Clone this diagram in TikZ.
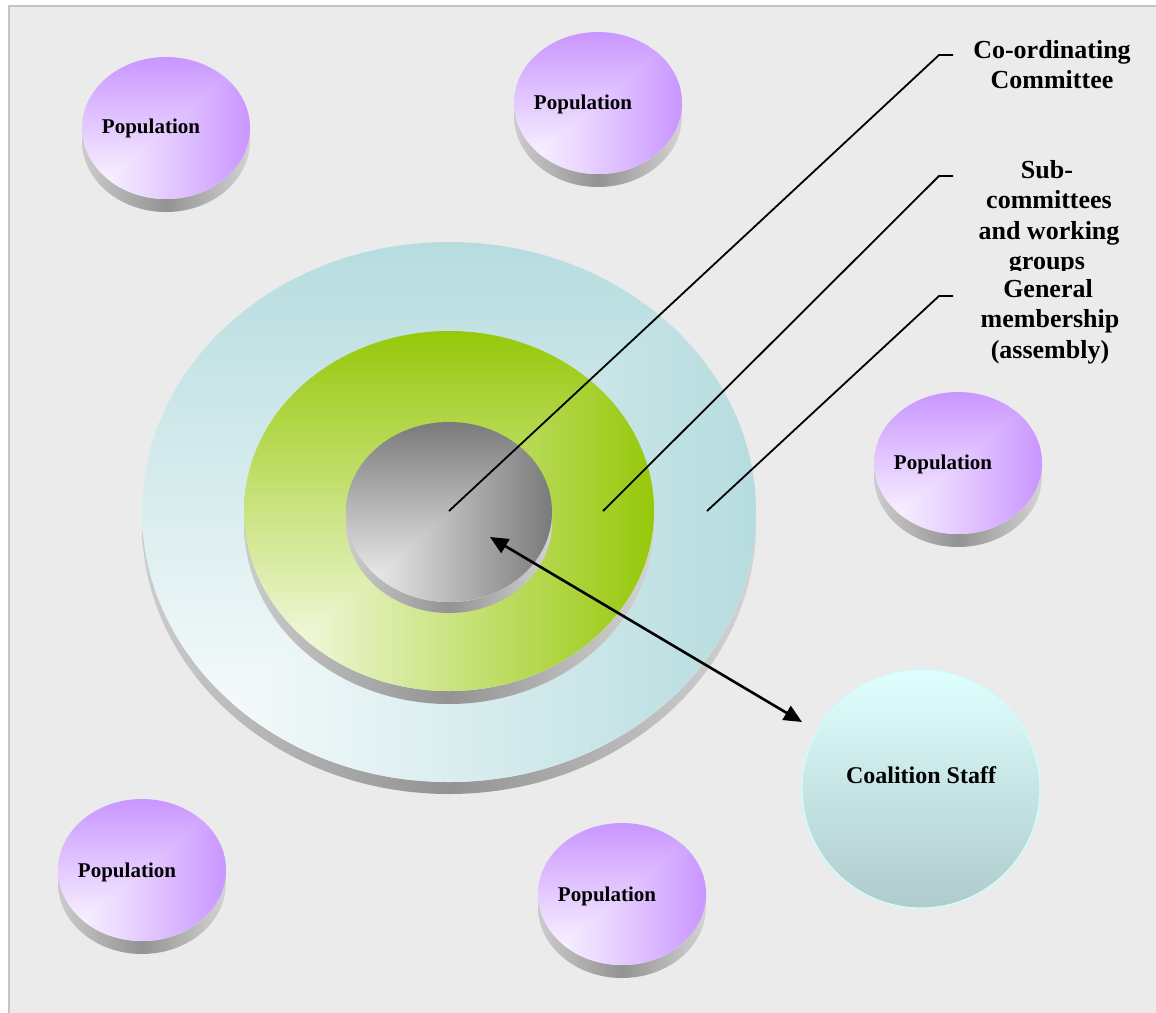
\documentclass[tikz,border=0pt]{standalone}
\usepackage{fontspec}
\setmainfont{Liberation Serif}
\usetikzlibrary{arrows.meta}

\definecolor{bgfill}{HTML}{EBEBEB}
\definecolor{bgedge}{HTML}{C3C3C3}
\definecolor{popdark}{HTML}{C996FF}
\definecolor{poplight}{HTML}{FFFFFF}
\definecolor{greydark}{HTML}{7A7A7A}
\definecolor{greylight}{HTML}{FAFAFA}
\definecolor{greendark}{HTML}{96C80A}
\definecolor{greenlight}{HTML}{FFFFFA}
\definecolor{bluedark}{HTML}{B6DCDF}
\definecolor{bluelight}{HTML}{FFFFFF}
\definecolor{sidedark}{HTML}{939393}
\definecolor{sidelight}{HTML}{CCCCCC}
\definecolor{stafftop}{HTML}{E0FFFF}
\definecolor{staffbot}{HTML}{AFCBCB}
\definecolor{staffedge}{HTML}{CCFFFF}

% A flat disk seen at a slant: grey rim below, face shaded from its lower-left corner.
% #1 cx, #2 cy, #3 rx, #4 ry, #5 rim depth, #6 dark colour, #7 light colour
\newcommand\slabdisk[7]{%
  \begin{scope}[shift={(#1,#2)}]
    \shade[left color=sidelight, right color=sidelight!85!white, middle color=sidedark]
      (-#3,0) -- (-#3,#5) arc[start angle=180, end angle=0, x radius=#3, y radius=#4]
      -- (#3,0) -- cycle;
    \begin{scope}
      \clip (0,0) ellipse [x radius=#3, y radius=#4];
      \shade[top color=#6, bottom color=#7] (-#3,-#4) rectangle (#3,#4);
      \shade[left color=#7, right color=#6] (-#3,#4) -- (#3,#4) -- (#3,-#4) -- cycle;
    \end{scope}
  \end{scope}}

\tikzset{
  poptext/.style={anchor=base, inner sep=0pt, font=\fontsize{21}{25}\selectfont\bfseries},
  labeltext/.style={anchor=base, inner sep=0pt, font=\fontsize{26}{31}\selectfont\bfseries},
  leader/.style={line width=1.8pt, black},
  twoway/.style={line width=2.6pt, black, {Triangle[length=18pt,width=16pt]}-{Triangle[length=18pt,width=16pt]}},
}

\begin{document}
\begin{tikzpicture}[x=1pt, y=-1pt]
  \useasboundingbox (0,0) rectangle (1156,1012);
  \begin{scope}
    \clip (0,0) rectangle (1156,1012);
    \fill[white] (0,0) rectangle (1156,1012);
    \draw[bgedge, line width=2pt, fill=bgfill] (9,6) rectangle (1180,1040);
  \end{scope}

  % population disks
  \slabdisk{166}{128}{84}{71}{13}{popdark}{poplight}
  \slabdisk{598}{103}{84}{71}{13}{popdark}{poplight}
  \slabdisk{958}{463}{84}{71}{13}{popdark}{poplight}
  \slabdisk{142}{870}{84}{71}{13}{popdark}{poplight}
  \slabdisk{622}{894}{84}{71}{13}{popdark}{poplight}

  \node[poptext] (pop1) at (151,133) {Population};
  \node[poptext] (pop2) at (583,109) {Population};
  \node[poptext] (pop3) at (943,469) {Population};
  \node[poptext] (pop4) at (127,877) {Population};
  \node[poptext] (pop5) at (607,901) {Population};

  % nested rings of the coalition
  \slabdisk{449}{512}{307}{270}{12}{bluedark}{bluelight}
  \slabdisk{449}{511}{205}{180}{13}{greendark}{greenlight}
  \slabdisk{449}{512}{103}{90}{11}{greydark}{greylight}

  % coalition staff
  \shade[top color=stafftop, bottom color=staffbot, draw=staffedge, line width=1.2pt]
    (921,789) circle [radius=119];
  \node[anchor=base, inner sep=0pt, font=\fontsize{24}{28}\selectfont\bfseries]
    (staff) at (921,783) {Coalition Staff};

  % label texts
  \node[labeltext] (co1) at (1052,58) {Co-ordinating};
  \node[labeltext] (co2) at (1052,88.5) {Committee};
  \node[labeltext] (sub1) at (1047,178) {Sub-};
  \node[labeltext] (sub2) at (1049,208.5) {committees};
  \node[labeltext] (sub3) at (1049,239) {and working};
  \begin{scope}
    \clip (900,240) rectangle (1156,270.5);
    \node[labeltext] (sub4) at (1047,269.5) {groups};
  \end{scope}
  \node[labeltext] (gen1) at (1048,297) {General};
  \node[labeltext] (gen2) at (1050,327.5) {membership};
  \node[labeltext] (gen3) at (1050,358) {(assembly)};

  % leader lines
  \coordinate (coin) at (449,511);
  \coordinate (subin) at (603,511);
  \coordinate (genin) at (707,511);
  \coordinate (cobend) at (939,55);
  \coordinate (subbend) at (939,176);
  \coordinate (genbend) at (939,296);
  \coordinate (coend) at (953,55);
  \coordinate (subend) at (953,176);
  \coordinate (genend) at (953,296);
  \draw[leader] (coin) -- (cobend) -- (coend);
  \draw[leader] (subin) -- (subbend) -- (subend);
  \draw[leader] (genin) -- (genbend) -- (genend);

  % two-way link between committee and staff
  \coordinate (linkin) at (490,537);
  \coordinate (linkout) at (802,722);
  \draw[twoway] (linkin) -- (linkout);
\end{tikzpicture}
\end{document}
